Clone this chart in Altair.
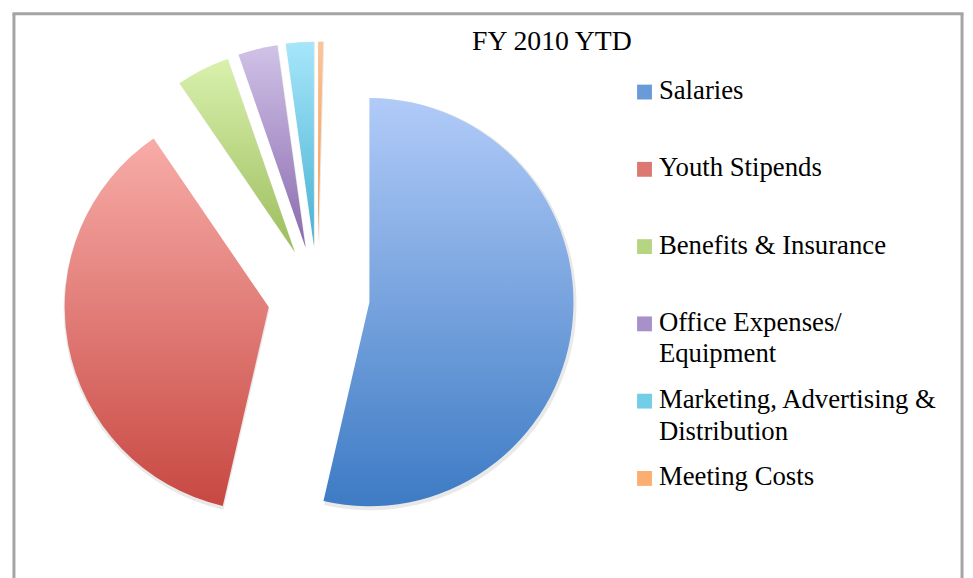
import altair as alt
import pandas as pd

title_text = "FY 2010 YTD"
categories = [
    "Salaries",
    "Youth Stipends",
    "Benefits & Insurance",
    "Office Expenses/ Equipment",
    "Marketing, Advertising & Distribution",
    "Meeting Costs",
]
shares = [53.4, 36.7, 4.2, 3.1, 2.2, 0.4]
legend_labels = [
    "Salaries",
    "Youth Stipends",
    "Benefits & Insurance",
    "Office Expenses/|Equipment",
    "Marketing, Advertising &|Distribution",
    "Meeting Costs",
]
top_colors = ["#b1cbf8", "#f8aca8", "#d9f1ad", "#d0c2e7", "#a7e6fa", "#fcc499"]
bottom_colors = ["#3d7bc4", "#c84842", "#9cbd5d", "#8a6aae", "#47b1d2", "#f79444"]
mid_colors = ["#6a9ad8", "#dc7772", "#b6d583", "#a890c9", "#72cde7", "#fbae70"]

df = pd.DataFrame({
    "category": categories,
    "share": shares,
    "order": list(range(len(categories))),
    "label": legend_labels,
})

EXPLODE = 0.25
R = 206
W, H = 957, 600
CX, CY = 307.6, 285.6
FRAME = "#a4a4a4"

base = (
    alt.Chart(df)
    .transform_window(cum="sum(share)", sort=[alt.SortField("order")], frame=[None, 0])
    .transform_joinaggregate(total="sum(share)")
    .transform_calculate(
        start="datum.cum - datum.share",
        end="datum.cum",
        ang="2*PI*(datum.cum - datum.share/2)/datum.total",
        ex=f"{EXPLODE}*sin(datum.ang)",
        ey=f"{EXPLODE}*cos(datum.ang)",
    )
)

enc = dict(
    x=alt.X("ex:Q", scale=alt.Scale(domain=[-1, 1], range=[CX - R, CX + R]), axis=None),
    y=alt.Y("ey:Q", scale=alt.Scale(domain=[-1, 1], range=[CY + R, CY - R]), axis=None),
    theta=alt.Theta("start:Q", stack=None),
    theta2="end:Q",
)

shadow = base.mark_arc(radius=R + 2, fill="#cfcfcf", opacity=0.45, xOffset=1, yOffset=2).encode(**enc)

slices = []
for cat, c0, c1 in zip(categories, top_colors, bottom_colors):
    grad = alt.LinearGradient(
        gradient="linear",
        stops=[alt.GradientStop(color=c0, offset=0), alt.GradientStop(color=c1, offset=1)],
        x1=0, x2=0, y1=0, y2=1,
    )
    slices.append(
        base.transform_filter(alt.datum.category == cat).mark_arc(radius=R, fill=grad).encode(**enc)
    )

leg_y = alt.Y("order:O", scale=alt.Scale(range=[79, 469], padding=0), axis=None)

legend_sq = alt.Chart(df).mark_square(size=225, opacity=1).encode(
    x=alt.value(636.5),
    y=leg_y,
    color=alt.Color("category:N", scale=alt.Scale(domain=categories, range=mid_colors), legend=None),
)

legend_txt = (
    alt.Chart(df)
    .transform_calculate(lines="split(datum.label, '|')")
    .mark_text(
        font="Liberation Serif", fontSize=27, align="left", baseline="top", dy=-14,
        lineHeight=32, color="#000000",
    )
    .encode(x=alt.value(651), y=leg_y, text="lines:N")
)

title_layer = alt.Chart(pd.DataFrame({"t": [title_text]})).mark_text(
    font="Liberation Serif", fontSize=28, align="center", baseline="middle", color="#000000"
).encode(text="t:N", x=alt.value(543), y=alt.value(29))

frame_df = pd.DataFrame({"k": [0]})
frame_left = alt.Chart(frame_df).mark_rule(color=FRAME, strokeWidth=3).encode(
    x=alt.value(0), y=alt.value(0), y2=alt.value(H)
)
frame_right = alt.Chart(frame_df).mark_rule(color=FRAME, strokeWidth=3).encode(
    x=alt.value(W), y=alt.value(0), y2=alt.value(H)
)
frame_top = alt.Chart(frame_df).mark_rule(color=FRAME, strokeWidth=3).encode(
    x=alt.value(-1.5), x2=alt.value(W + 1.5), y=alt.value(0)
)

chart = (
    alt.layer(shadow, *slices, legend_sq, legend_txt, title_layer, frame_left, frame_right, frame_top)
    .resolve_scale(x="independent", y="independent")
    .properties(width=W, height=H, padding={"left": 3, "top": 1, "right": 0, "bottom": 0})
    .configure_view(stroke=None)
    .configure(background="#ffffff")
)

chart.save("out.html", embed_options={"renderer": "svg", "actions": False})
